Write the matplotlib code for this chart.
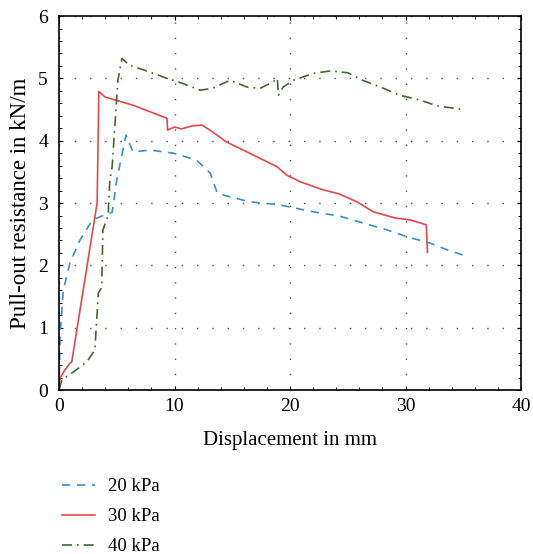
import matplotlib
matplotlib.use("Agg")
import matplotlib.pyplot as plt
from matplotlib.ticker import MultipleLocator

plt.rcParams['font.family'] = ['Liberation Serif', 'DejaVu Serif']

# 20 kPa
x20 = [0, 0.1, 0.37, 0.95, 1.8, 2.9, 4.1, 4.6, 5.0, 5.8, 6.4, 7.9, 9.9, 11.9, 13.1, 13.7,
       14.2, 16.5, 19.1, 22.0, 24.3, 26.3, 28.4, 30.1, 32.1, 33.6, 35.4]
y20 = [0, 0.9, 1.6, 2.04, 2.4, 2.73, 2.82, 2.85, 3.37, 4.09, 3.82, 3.85, 3.8, 3.69, 3.48, 3.16,
       3.13, 3.02, 2.97, 2.86, 2.79, 2.68, 2.57, 2.46, 2.36, 2.25, 2.14]

# 30 kPa
x30 = [0, 0.1, 0.5, 0.95, 1.1, 3.3, 3.45, 4.0, 6.4, 9.35, 9.4, 10.0, 10.6, 11.6, 12.4, 13.3,
       14.5, 16.5, 18.9, 19.7, 20.9, 22.9, 24.2, 25.8, 27.2, 29.1, 30.4, 31.8, 31.9]
y30 = [0.1, 0.19, 0.32, 0.43, 0.45, 3.0, 4.79, 4.7, 4.57, 4.36, 4.17, 4.22, 4.19, 4.24, 4.25, 4.14,
       3.98, 3.8, 3.58, 3.45, 3.34, 3.21, 3.15, 3.02, 2.86, 2.76, 2.73, 2.65, 2.21]

# 40 kPa
x40 = [0, 0.25, 1.1, 2.4, 3.1, 3.3, 3.4, 3.7, 3.8, 4.25, 4.4, 4.6, 5.1, 5.45, 6.1, 7.9, 9.35,
       10.7, 12.2, 13.3, 14.8, 16.3, 17.4, 18.5, 18.9, 19.0, 19.4, 20.3, 22.0, 23.5, 25.0,
       26.3, 28.1, 29.5, 31.3, 32.7, 35.0]
y40 = [0, 0.16, 0.27, 0.45, 0.64, 1.23, 1.55, 1.65, 2.57, 2.8, 3.37, 3.58, 4.97, 5.32, 5.21, 5.1, 5.0,
       4.92, 4.81, 4.84, 4.97, 4.86, 4.84, 4.94, 5.0, 4.73, 4.86, 4.97, 5.08, 5.12, 5.09,
       4.97, 4.84, 4.73, 4.65, 4.56, 4.5]

labels = ['20 kPa', '30 kPa', '40 kPa']

fig = plt.figure(figsize=(5.33, 5.54), dpi=100)
ax = fig.add_axes([0.1107, 0.296, 0.8668, 0.675])

ax.plot(x20, y20, color='#3a8fd0', linestyle=(0, (5, 4)), linewidth=1.2, label=labels[0])
ax.plot(x30, y30, color='#e8474a', linestyle='-', linewidth=1.2, label=labels[1])
ax.plot(x40, y40, color='#3d6b2a', linestyle=(0, (6, 3, 1, 3)), linewidth=1.2, label=labels[2])

ax.set_xlim(0, 40)
ax.set_ylim(0, 6)
ax.xaxis.set_major_locator(MultipleLocator(10))
ax.yaxis.set_major_locator(MultipleLocator(1))
ax.xaxis.set_minor_locator(MultipleLocator(2))
ax.yaxis.set_minor_locator(MultipleLocator(0.2))
ax.tick_params(which='both', direction='in', top=True, right=True, labelsize=14)
ax.tick_params(which='major', length=3)
ax.tick_params(which='minor', length=2)
ax.tick_params(axis='x', which='major', pad=6)
ax.tick_params(axis='y', which='major', pad=8)
ax.grid(True, which='major', color='#555555', linestyle=(0, (1, 10)), linewidth=1.0)
for s in ax.spines.values():
    s.set_linewidth(1.2)

ax.set_xlabel('Displacement in mm', fontsize=15, labelpad=11)
ax.set_ylabel('Pull-out resistance in kN/m', fontsize=16.5, labelpad=5)

fig.legend(loc='upper left', bbox_to_anchor=(0.085, 0.167), frameon=False, fontsize=13.5,
           handlelength=1.75, handletextpad=0.7, labelspacing=0.68)

fig.savefig('out.png', dpi=100)
